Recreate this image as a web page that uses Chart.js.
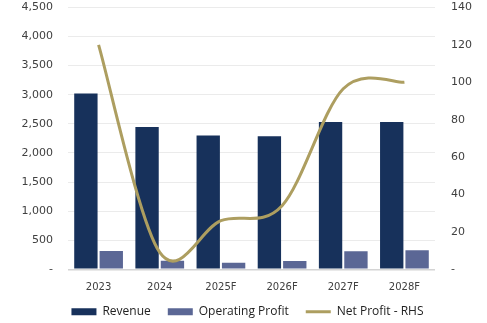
<!DOCTYPE html>
<html>
<head>
<meta charset="utf-8">
<script src="https://cdn.jsdelivr.net/npm/chart.js@4.4.0/dist/chart.umd.min.js"></script>
<style>
  html, body { margin: 0; padding: 0; background: #ffffff; }
  #wrap { width: 487px; height: 323px; }
</style>
</head>
<body>
<div id="wrap"><canvas id="chart"></canvas></div>
<script>
// Categories and series
const years = ['2023', '2024', '2025F', '2026F', '2027F', '2028F'];
const revenue = [3020, 2445, 2300, 2285, 2530, 2530];
const operatingProfit = [315, 148, 113, 143, 310, 326];
const netProfit = [120, 9, 26, 34, 96.5, 100];

// Axis ranges
const leftMax = 4500;
const leftStep = 500;
const rightMax = 140;
const rightStep = 20;

const tickColor = '#404040';
const gridColor = '#ebebeb';

function fmtTick(value) {
    return value === 0 ? '-' : value.toLocaleString('en-US');
}

// layout squeezes the x axis; give its labels room again and move the legend a bit
const layoutFix = {
    id: 'layoutFix',
    afterLayout(chart) {
        const x = chart.scales.x;
        x.bottom = x.top + 31;
        x.height = 31;
        const lg = chart.legend;
        if (lg) {
            lg.top += 4.7;
            lg.bottom += 4.7;
            lg.left += 4;
            lg.right += 4;
        }
    }
};

// Excel style smoothing (plain Catmull-Rom) instead of Chart.js' distance weighted one
const excelSmooth = {
    id: 'excelSmooth',
    beforeDatasetsDraw(chart) {
        chart.data.datasets.forEach((ds, i) => {
            if (ds.type !== 'line') return;
            const meta = chart.getDatasetMeta(i);
            meta.dataset.updateControlPoints(chart.chartArea, 'x');
            const pts = meta.data;
            pts.forEach((pt, j) => {
                const prev = pts[j - 1] || pt;
                const next = pts[j + 1] || pt;
                const dx = (next.x - prev.x) / 6;
                const dy = (next.y - prev.y) / 6;
                pt.cp1x = pt.x - dx;
                pt.cp1y = pt.y - dy;
                pt.cp2x = pt.x + dx;
                pt.cp2y = pt.y + dy;
            });
            delete meta.dataset._path;
        });
    }
};

const config = {
    type: 'bar',
    data: {
        labels: years,
        datasets: [
            {
                label: 'Revenue',
                data: revenue,
                backgroundColor: '#17315b',
                pointStyle: 'rect',
                categoryPercentage: 0.83,
                barPercentage: 0.92,
                yAxisID: 'y',
                order: 1
            },
            {
                label: 'Operating Profit',
                data: operatingProfit,
                backgroundColor: '#5b6795',
                pointStyle: 'rect',
                categoryPercentage: 0.83,
                barPercentage: 0.92,
                yAxisID: 'y',
                order: 1
            },
            {
                type: 'line',
                label: 'Net Profit - RHS',
                data: netProfit,
                borderColor: '#ad9e60',
                backgroundColor: '#ad9e60',
                borderWidth: 3,
                pointRadius: 0,
                pointHoverRadius: 0,
                pointStyle: 'line',
                tension: 0.4,
                yAxisID: 'y1',
                order: 0
            }
        ]
    },
    plugins: [layoutFix, excelSmooth],
    options: {
        responsive: true,
        maintainAspectRatio: false,
        animation: false,
        layout: {
            autoPadding: false,
            padding: 0
        },
        plugins: {
            tooltip: { enabled: false },
            legend: {
                position: 'bottom',
                labels: {
                    usePointStyle: true,
                    pointStyleWidth: 25,
                    boxHeight: 7,
                    padding: 17,
                    color: '#222222',
                    font: { family: 'Open Sans', size: 12 },
                    sort: (a, b) => a.datasetIndex - b.datasetIndex
                }
            }
        },
        scales: {
            x: {
                grid: { display: false, drawTicks: false },
                border: { display: false },
                ticks: {
                    color: tickColor,
                    padding: 12,
                    font: { family: 'DejaVu Sans', size: 10 }
                },
                afterFit: (scale) => { scale.height = 14.7; }
            },
            y: {
                position: 'left',
                min: 0,
                max: leftMax,
                grid: {
                    drawTicks: false,
                    color: (ctx) => ctx.tick && ctx.tick.value === 0 ? '#d4d4d4' : gridColor,
                    lineWidth: (ctx) => ctx.tick && ctx.tick.value === 0 ? 1.5 : 1
                },
                border: { display: false },
                ticks: {
                    stepSize: leftStep,
                    color: tickColor,
                    padding: 15,
                    font: { family: 'DejaVu Sans', size: 11 },
                    callback: fmtTick
                },
                afterFit: (scale) => {
                    scale.width = 68;
                    scale.paddingTop = 7.4;
                    scale.paddingBottom = 0;
                }
            },
            y1: {
                position: 'right',
                min: 0,
                max: rightMax,
                grid: { display: false, drawTicks: false },
                border: { display: false },
                ticks: {
                    stepSize: rightStep,
                    color: tickColor,
                    padding: 16,
                    font: { family: 'DejaVu Sans', size: 11 },
                    callback: fmtTick
                },
                afterFit: (scale) => {
                    scale.width = 52;
                    scale.paddingTop = 7.4;
                    scale.paddingBottom = 0;
                }
            }
        }
    }
};

new Chart(document.getElementById('chart').getContext('2d'), config);
</script>
</body>
</html>
